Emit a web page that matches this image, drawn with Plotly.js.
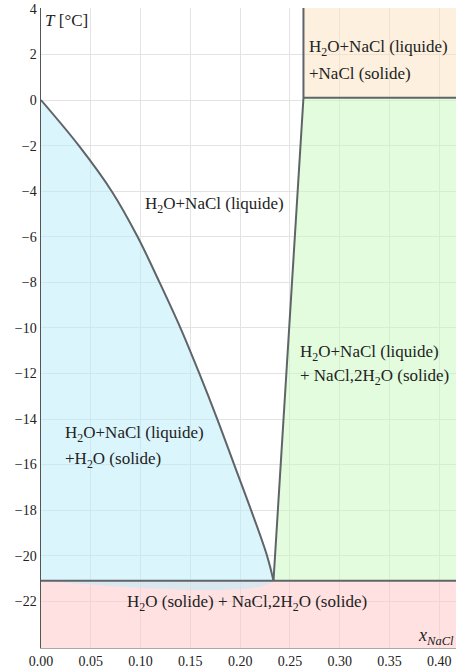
<!DOCTYPE html>
<html>
<head>
<meta charset="utf-8">
<script src="https://cdn.plot.ly/plotly-3.0.1.min.js"></script>
<style>html,body{margin:0;padding:0;background:#fff;}#chart{width:456px;height:668px;}</style>
</head>
<body>
<div id="chart"></div>
<script>
// Liquidus curve (ice + brine)
var liqX = [0, 0.038, 0.071, 0.097, 0.119, 0.140, 0.159, 0.177, 0.194, 0.211, 0.227, 0.2335];
var liqT = [0, -2, -4, -6, -8, -10, -12, -14, -16, -18, -20, -21.1];
// Eutectic point and peritectic point
var eutX = 0.2335, eutT = -21.1;
var periX = 0.2636, periT = 0.1;
// Axis limits
var xLim = [0, 0.4168];
var yLim = [-24.05, 4.04];
var xTicks = [0, 0.05, 0.10, 0.15, 0.20, 0.25, 0.30, 0.35, 0.40];
var yTicks = [-22, -20, -18, -16, -14, -12, -10, -8, -6, -4, -2, 0, 2, 4];

var lineCol = '#5f6468';
var traces = [];
traces.push({x:[xLim[0], xLim[1], xLim[1], xLim[0]], y:[yLim[0], yLim[0], eutT, eutT],
  mode:'lines', fill:'toself', fillcolor:'rgba(255,200,200,0.55)', line:{width:0}, hoverinfo:'skip'});
traces.push({x:liqX.concat([0]), y:liqT.concat([eutT]), mode:'lines', fill:'toself',
  fillcolor:'rgba(190,236,252,0.55)', line:{width:0, shape:'spline', smoothing:1}, hoverinfo:'skip'});
traces.push({x:[eutX, periX, xLim[1], xLim[1]], y:[eutT, periT, periT, eutT], mode:'lines', fill:'toself',
  fillcolor:'rgba(200,250,190,0.5)', line:{width:0}, hoverinfo:'skip'});
traces.push({x:[periX, xLim[1], xLim[1], periX], y:[periT, periT, yLim[1], yLim[1]], mode:'lines', fill:'toself',
  fillcolor:'rgba(252,225,190,0.5)', line:{width:0}, hoverinfo:'skip'});
traces.push({x:liqX, y:liqT, mode:'lines', line:{color:lineCol, width:2, shape:'spline', smoothing:1}, hoverinfo:'skip'});
traces.push({x:[eutX, periX, periX], y:[eutT, periT, yLim[1]], mode:'lines', line:{color:lineCol, width:2}, hoverinfo:'skip'});
traces.push({x:[xLim[0], xLim[1]], y:[eutT, eutT], mode:'lines', line:{color:lineCol, width:2}, hoverinfo:'skip'});
traces.push({x:[periX, xLim[1]], y:[periT, periT], mode:'lines', line:{color:lineCol, width:2}, hoverinfo:'skip'});

var F = 'Liberation Serif';
var tf = {family:F, size:17, color:'#222'};
function lbl(x, y, t, anchor) {
  return {x:x, y:y, xanchor:anchor || 'left', yanchor:'middle', text:t, showarrow:false, font:tf, align:'left'};
}
var ann = [
  lbl(0.1025, -4.6, 'H<sub>2</sub>O+NaCl (liquide)'),
  lbl(0.267, 2.28, 'H<sub>2</sub>O+NaCl (liquide)'),
  lbl(0.267, 1.18, '+NaCl (solide)'),
  lbl(0.2585, -11.11, 'H<sub>2</sub>O+NaCl (liquide)'),
  lbl(0.2585, -12.16, '+ NaCl,2H<sub>2</sub>O (solide)'),
  lbl(0.022, -14.66, 'H<sub>2</sub>O+NaCl (liquide)'),
  lbl(0.022, -15.80, '+H<sub>2</sub>O (solide)'),
  lbl(0.207, -22.08, 'H<sub>2</sub>O (solide) + NaCl,2H<sub>2</sub>O (solide)', 'center'),
  {x:0.002, y:4.0, xanchor:'left', yanchor:'top', text:'<i>T</i> [°C]', showarrow:false, font:{family:F, size:17, color:'#222'}},
  {x:xLim[1], y:-23.55, xanchor:'right', yanchor:'middle', text:'<i>x</i><sub><i>NaCl</i></sub>', showarrow:false, font:{family:F, size:18, color:'#222'}}
];

var layout = {
  width:456, height:668,
  margin:{l:41, r:0, t:8, b:20},
  paper_bgcolor:'#fff', plot_bgcolor:'#fff',
  showlegend:false,
  font:{family:F, color:'#222'},
  xaxis:{range:xLim, tickvals:xTicks, ticktext:xTicks.map(function(v){return v.toFixed(2);}),
    showgrid:true, gridcolor:'#e3e3e3', zeroline:false, showline:true, linecolor:'#a9a9a9', linewidth:1,
    ticks:'', tickfont:{family:F, size:14, color:'#222'}, fixedrange:true},
  yaxis:{range:yLim, tickvals:yTicks, showgrid:true, gridcolor:'#e3e3e3', zeroline:false,
    showline:true, linecolor:'#555', linewidth:1.5, ticks:'', tickfont:{family:F, size:14, color:'#222'}, fixedrange:true},
  annotations:ann
};
Plotly.newPlot('chart', traces, layout, {staticPlot:true, displayModeBar:false});
</script>
</body>
</html>
